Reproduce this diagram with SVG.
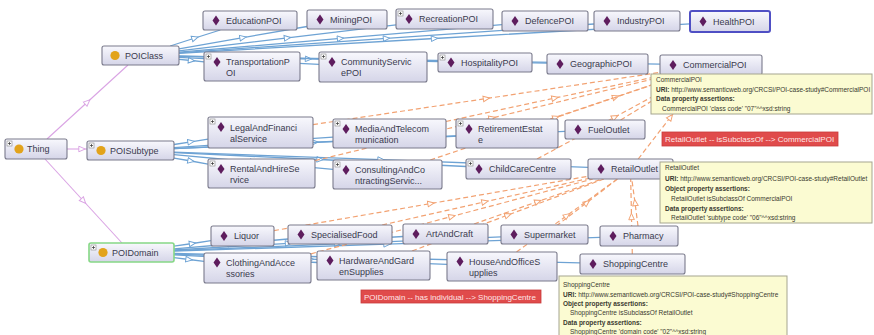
<svg xmlns="http://www.w3.org/2000/svg" xmlns:xlink="http://www.w3.org/1999/xlink" width="874" height="335" viewBox="0 0 874 335">
<style>
.b{fill:url(#ng);stroke:#7a7a8c;stroke-width:1.1}
.t{font-family:"Liberation Sans",Arial,sans-serif;font-size:9px;fill:#3a3a4e}
.tt{font-family:"Liberation Sans",Arial,sans-serif;font-size:6.5px;fill:#3a3a30}
.tb{font-weight:bold}
.tip{fill:#fbfbd2;stroke:#a5a590;stroke-width:1}
.red{fill:#e04b4b;stroke:#c83a3a;stroke-width:0.8}
.rt{font-family:"Liberation Sans",Arial,sans-serif;font-size:8px;fill:#ffe6e6}
.vl{fill:none;stroke:#daa4e4;stroke-width:1.1;marker-mid:url(#mv)}
.bl{fill:none;stroke:#6ea3d4;stroke-width:1.3;marker-mid:url(#mb)}
.ol{fill:none;stroke:#f2a272;stroke-width:1.2;stroke-dasharray:5 3;marker-mid:url(#mo)}
</style>
<defs>
<linearGradient id="ng" x1="0" y1="0" x2="0" y2="1"><stop offset="0" stop-color="#f8f8fd"/><stop offset="1" stop-color="#d5d5e8"/></linearGradient>
<marker id="mv" viewBox="0 0 10 10" refX="5" refY="5" markerWidth="8" markerHeight="8" markerUnits="userSpaceOnUse" orient="auto"><path d="M1,1.5 L9,5 L1,8.5 Z" fill="#fff" stroke="#daa4e4" stroke-width="1.2"/></marker>
<marker id="mb" viewBox="0 0 10 10" refX="5" refY="5" markerWidth="8" markerHeight="8" markerUnits="userSpaceOnUse" orient="auto"><path d="M1,1.5 L9,5 L1,8.5 Z" fill="#fff" stroke="#6ea3d4" stroke-width="1.2"/></marker>
<marker id="mo" viewBox="0 0 10 10" refX="5" refY="5" markerWidth="8" markerHeight="8" markerUnits="userSpaceOnUse" orient="auto"><path d="M1,1.5 L9,5 L1,8.5 Z" fill="#fff" stroke="#f2a272" stroke-width="1.2"/></marker>
<path id="dm" d="M0,-5 L3.5,0 L0,5 L-3.5,0 Z" fill="#5e1d5e"/>
<circle id="ci" r="4.6" fill="#e2a31b"/>
<g id="pl"><rect x="0" y="0" width="5" height="5" fill="#fff" stroke="#888" stroke-width="0.6"/><path d="M1,2.5H4M2.5,1V4" stroke="#333" stroke-width="0.7"/></g>
</defs>
<rect width="874" height="335" fill="#fff"/>

<g id="connectors">
<path class="vl" d="M47,139 L87.5,102 L128,65"/>
<path class="vl" d="M67,149 L82,149 L87,149"/>
<path class="vl" d="M45,159 L83.5,201 L122,243"/>

<path class="bl" d="M170.2,46 L195,38 L220.3,30"/>
<path class="bl" d="M179,48.8 L243,37.6 L307,26.5"/>
<path class="bl" d="M179,50.9 L287.5,37.9 L396,24.8"/>
<path class="bl" d="M179,52.2 L340.5,38.4 L502,24.7"/>
<path class="bl" d="M179,52.8 L386.5,38.4 L594,24"/>
<path class="bl" d="M179,53.3 L434.5,38.5 L690,23.8"/>
<path class="bl" d="M179,59.3 L191.5,60.5 L204,61.8"/>
<path class="bl" d="M179,57.4 L249,60.9 L319,64.3"/>
<path class="bl" d="M179,56.3 L308.5,58.9 L438,61.5"/>
<path class="bl" d="M179,56.2 L363,59.6 L547,63.1"/>
<path class="bl" d="M179,56.1 L419.5,60.2 L660,64.2"/>

<path class="bl" d="M174,144.5 L191,141.8 L208,139.2"/>
<path class="bl" d="M174,147.6 L253.5,142.4 L333,137.2"/>
<path class="bl" d="M174,148.6 L315,142.2 L456,135.8"/>
<path class="bl" d="M174,148.6 L369.5,140 L565,131.3"/>
<path class="bl" d="M174,158.1 L191,161 L208,164.1"/>
<path class="bl" d="M174,154.6 L253.5,162 L333,169.4"/>
<path class="bl" d="M174,152.6 L320,159.5 L466,166.5"/>
<path class="bl" d="M174,152.1 L381,159.7 L588,167.4"/>

<path class="bl" d="M174,246.2 L192.5,243.5 L211,240.7"/>
<path class="bl" d="M174,248.8 L231,244 L288,239"/>
<path class="bl" d="M174,250 L288.5,243.3 L403,236.5"/>
<path class="bl" d="M174,250.7 L337.5,243.8 L501,236.8"/>
<path class="bl" d="M174,251.1 L387,244.2 L600,237.3"/>
<path class="bl" d="M174,257.7 L189,259.5 L204,261.4"/>
<path class="bl" d="M174,254.8 L245.5,258.6 L317,262.5"/>
<path class="bl" d="M174,254.1 L310.5,259.2 L447,264.4"/>
<path class="bl" d="M174,253.5 L377,258 L580,262.8"/>

<path class="ol" d="M313,124.6 L486.5,98.5 L660,72.4"/>
<path class="ol" d="M446,121.5 L555,98 L664,75"/>
<path class="ol" d="M550.2,119 L615.7,97 L681.2,75"/>
<path class="ol" d="M620.6,120 L657.6,97.5 L694.6,75"/>
<path class="ol" d="M315,160.6 L492,118 L669.6,75"/>
<path class="ol" d="M430.3,160 L556,117.5 L681.5,75"/>
<path class="ol" d="M537,159 L615,117 L692.5,75"/>
<path class="ol" d="M638.2,159 L670.6,117 L703,75"/>

<path class="ol" d="M274,230.6 L431,203.5 L588,176.3"/>
<path class="ol" d="M382.1,225 L485,201.8 L588,178.6"/>
<path class="ol" d="M474,224 L538,201.5 L602,179"/>
<path class="ol" d="M556.2,226 L587,202.5 L617.5,179"/>
<path class="ol" d="M638,226 L635,202.5 L631.8,179"/>
<path class="ol" d="M311,253.8 L452,216.4 L592.8,179"/>
<path class="ol" d="M412,251 L508,215 L603.9,179"/>
<path class="ol" d="M516.5,252 L567,215.5 L617.3,179"/>
<path class="ol" d="M632.3,254 L631.5,216.5 L630.7,179"/>
</g>

<g id="n-Thing"><rect class="b" x="5" y="139" width="62" height="20" rx="2"/><use xlink:href="#pl" x="7" y="141"/><use xlink:href="#ci" x="19" y="149"/><text class="t" x="27" y="152.3">Thing</text></g>
<g id="n-POIClass"><rect class="b" x="102" y="46" width="77" height="19" rx="2"/><use xlink:href="#ci" x="115" y="55.5"/><text class="t" x="125" y="58.8">POIClass</text></g>
<g id="n-POISubtype"><rect class="b" x="87" y="141" width="87" height="19" rx="2"/><use xlink:href="#pl" x="89" y="143"/><use xlink:href="#ci" x="101" y="150.5"/><text class="t" x="110" y="153.8">POISubtype</text></g>
<g id="n-POIDomain"><rect class="b" x="89" y="243" width="85" height="19" rx="2" style="stroke:#86d886;stroke-width:1.6"/><use xlink:href="#pl" x="91" y="245"/><use xlink:href="#ci" x="103" y="252.5"/><text class="t" x="112" y="255.8">POIDomain</text></g>

<g id="n-EducationPOI"><rect class="b" x="203" y="11" width="94" height="19" rx="2"/><use xlink:href="#dm" x="216" y="20.5"/><text class="t" x="226" y="23.8">EducationPOI</text></g>
<g id="n-MiningPOI"><rect class="b" x="307" y="10" width="80" height="19" rx="2"/><use xlink:href="#dm" x="320" y="19.5"/><text class="t" x="330" y="22.8">MiningPOI</text></g>
<g id="n-RecreationPOI"><rect class="b" x="396" y="9" width="97" height="20" rx="2"/><use xlink:href="#pl" x="398" y="11"/><use xlink:href="#dm" x="409" y="19"/><text class="t" x="419" y="22.3">RecreationPOI</text></g>
<g id="n-DefencePOI"><rect class="b" x="502" y="11" width="86" height="20" rx="2"/><use xlink:href="#dm" x="515" y="21"/><text class="t" x="525" y="24.3">DefencePOI</text></g>
<g id="n-IndustryPOI"><rect class="b" x="594" y="11" width="86" height="20" rx="2"/><use xlink:href="#dm" x="607" y="21"/><text class="t" x="617" y="24.3">IndustryPOI</text></g>
<g id="n-HealthPOI"><rect class="b" x="690" y="11" width="80" height="21" rx="2" style="stroke:#4f4fc4;stroke-width:2"/><use xlink:href="#dm" x="703" y="21.5"/><text class="t" x="713" y="24.8">HealthPOI</text></g>

<g id="n-TransportationPOI"><rect class="b" x="204" y="52" width="96" height="29" rx="2"/><use xlink:href="#pl" x="206" y="54"/><use xlink:href="#dm" x="217" y="62"/><text class="t" x="226" y="65">TransportationP</text><text class="t" x="226" y="76">OI</text></g>
<g id="n-CommunityServicePOI"><rect class="b" x="319" y="52" width="108" height="30" rx="2"/><use xlink:href="#pl" x="321" y="54"/><use xlink:href="#dm" x="332" y="62"/><text class="t" x="341" y="65">CommunityServic</text><text class="t" x="341" y="76">ePOI</text></g>
<g id="n-HospitalityPOI"><rect class="b" x="438" y="53" width="94" height="19" rx="2"/><use xlink:href="#pl" x="440" y="55"/><use xlink:href="#dm" x="451" y="62.5"/><text class="t" x="461" y="65.8">HospitalityPOI</text></g>
<g id="n-GeographicPOI"><rect class="b" x="547" y="54" width="101" height="20" rx="2"/><use xlink:href="#dm" x="560" y="64"/><text class="t" x="570" y="67.3">GeographicPOI</text></g>
<g id="n-CommercialPOI"><rect class="b" x="660" y="55" width="102" height="20" rx="2"/><use xlink:href="#dm" x="673" y="65"/><text class="t" x="683" y="68.3">CommercialPOI</text></g>

<g id="n-LegalAndFinancialService"><rect class="b" x="208" y="117" width="105" height="31" rx="2"/><use xlink:href="#pl" x="210" y="119"/><use xlink:href="#dm" x="221" y="127"/><text class="t" x="230" y="130.5">LegalAndFinanci</text><text class="t" x="230" y="142">alService</text></g>
<g id="n-MediaAndTelecommunication"><rect class="b" x="333" y="119" width="113" height="29" rx="2"/><use xlink:href="#pl" x="335" y="121"/><use xlink:href="#dm" x="346" y="129"/><text class="t" x="355" y="132">MediaAndTelecom</text><text class="t" x="355" y="143.3">munication</text></g>
<g id="n-RetirementEstate"><rect class="b" x="456" y="119" width="102" height="29" rx="2"/><use xlink:href="#pl" x="458" y="121"/><use xlink:href="#dm" x="469" y="129"/><text class="t" x="478" y="132">RetirementEstat</text><text class="t" x="478" y="143.3">e</text></g>
<g id="n-FuelOutlet"><rect class="b" x="565" y="120" width="80" height="19" rx="2"/><use xlink:href="#dm" x="578" y="129.5"/><text class="t" x="588" y="132.8">FuelOutlet</text></g>
<g id="n-RentalAndHireService"><rect class="b" x="208" y="159" width="107" height="29" rx="2"/><use xlink:href="#pl" x="210" y="161"/><use xlink:href="#dm" x="221" y="169"/><text class="t" x="230" y="172">RentalAndHireSe</text><text class="t" x="230" y="183.3">rvice</text></g>
<g id="n-ConsultingAndContractingService"><rect class="b" x="333" y="160" width="109" height="29" rx="2"/><use xlink:href="#pl" x="335" y="162"/><use xlink:href="#dm" x="346" y="170"/><text class="t" x="355" y="173">ConsultingAndCo</text><text class="t" x="355" y="184.3">ntractingServic...</text></g>
<g id="n-ChildCareCentre"><rect class="b" x="466" y="159" width="105" height="20" rx="2"/><use xlink:href="#pl" x="468" y="161"/><use xlink:href="#dm" x="479" y="169"/><text class="t" x="489" y="172.3">ChildCareCentre</text></g>
<g id="n-RetailOutlet"><rect class="b" x="588" y="159" width="85" height="20" rx="2"/><use xlink:href="#dm" x="601" y="169"/><text class="t" x="611" y="172.3">RetailOutlet</text></g>

<g id="n-Liquor"><rect class="b" x="211" y="226" width="63" height="20" rx="2"/><use xlink:href="#dm" x="224" y="236"/><text class="t" x="234" y="239.3">Liquor</text></g>
<g id="n-SpecialisedFood"><rect class="b" x="288" y="225" width="104" height="19" rx="2"/><use xlink:href="#dm" x="301" y="234.5"/><text class="t" x="311" y="237.8">SpecialisedFood</text></g>
<g id="n-ArtAndCraft"><rect class="b" x="403" y="224" width="85" height="20" rx="2"/><use xlink:href="#dm" x="416" y="234"/><text class="t" x="426" y="237.3">ArtAndCraft</text></g>
<g id="n-Supermarket"><rect class="b" x="501" y="225" width="87" height="19" rx="2"/><use xlink:href="#dm" x="514" y="234.5"/><text class="t" x="524" y="237.8">Supermarket</text></g>
<g id="n-Pharmacy"><rect class="b" x="600" y="226" width="78" height="20" rx="2"/><use xlink:href="#dm" x="613" y="236"/><text class="t" x="623" y="239.3">Pharmacy</text></g>
<g id="n-ClothingAndAccessories"><rect class="b" x="204" y="253" width="107" height="30" rx="2"/><use xlink:href="#dm" x="217" y="262.5"/><text class="t" x="226" y="265.5">ClothingAndAcce</text><text class="t" x="226" y="277">ssories</text></g>
<g id="n-HardwareAndGardenSupplies"><rect class="b" x="317" y="251" width="113" height="29" rx="2"/><use xlink:href="#dm" x="330" y="260.5"/><text class="t" x="339" y="263.5">HardwareAndGard</text><text class="t" x="339" y="275">enSupplies</text></g>
<g id="n-HouseAndOfficeSupplies"><rect class="b" x="447" y="252" width="110" height="29" rx="2"/><use xlink:href="#dm" x="460" y="261.5"/><text class="t" x="469" y="264.5">HouseAndOfficeS</text><text class="t" x="469" y="276">upplies</text></g>
<g id="n-ShoppingCentre"><rect class="b" x="580" y="254" width="105" height="20" rx="2"/><use xlink:href="#dm" x="593" y="264"/><text class="t" x="603" y="267.3">ShoppingCentre</text></g>

<g id="tip-CommercialPOI">
<rect class="tip" x="651" y="74" width="221" height="40"/>
<text class="tt" x="656" y="82">CommercialPOI</text>
<text class="tt" x="656" y="91.5"><tspan class="tb">URI:</tspan>  http://www.semanticweb.org/CRCSI/POI-case-study#CommercialPOI</text>
<text class="tt tb" x="656" y="101">Data property assertions:</text>
<text class="tt" x="662" y="110.5">CommercialPOI 'class code' "07"^^xsd:string</text>
</g>
<g id="tip-RetailOutlet">
<rect class="tip" x="660" y="162" width="212" height="61"/>
<text class="tt" x="665" y="169.5">RetailOutlet</text>
<text class="tt" x="665" y="181"><tspan class="tb">URI:</tspan>  http://www.semanticweb.org/CRCSI/POI-case-study#RetailOutlet</text>
<text class="tt tb" x="665" y="191">Object property assertions:</text>
<text class="tt" x="671" y="201">RetailOutlet isSubclassOf CommercialPOI</text>
<text class="tt tb" x="665" y="210.5">Data property assertions:</text>
<text class="tt" x="671" y="220">RetailOutlet 'subtype code' "06"^^xsd:string</text>
</g>
<g id="tip-ShoppingCentre">
<rect class="tip" x="559" y="276" width="228" height="64"/>
<text class="tt" x="563" y="287">ShoppingCentre</text>
<text class="tt" x="563" y="296.5"><tspan class="tb">URI:</tspan>  http://www.semanticweb.org/CRCSI/POI-case-study#ShoppingCentre</text>
<text class="tt tb" x="563" y="305.5">Object property assertions:</text>
<text class="tt" x="570" y="315">ShoppingCentre isSubclassOf RetailOutlet</text>
<text class="tt tb" x="563" y="324.5">Data property assertions:</text>
<text class="tt" x="570" y="334">ShoppingCentre 'domain code' "02"^^xsd:string</text>
</g>

<g id="label-retail">
<rect class="red" x="662" y="132" width="176" height="14"/>
<text class="rt" x="665" y="142">RetailOutlet -- isSubclassOf --&gt; CommercialPOI</text>
</g>
<g id="label-domain">
<rect class="red" x="361" y="290" width="180" height="13"/>
<text class="rt" x="364" y="299.5">POIDomain -- has individual --&gt; ShoppingCentre</text>
</g>
</svg>
